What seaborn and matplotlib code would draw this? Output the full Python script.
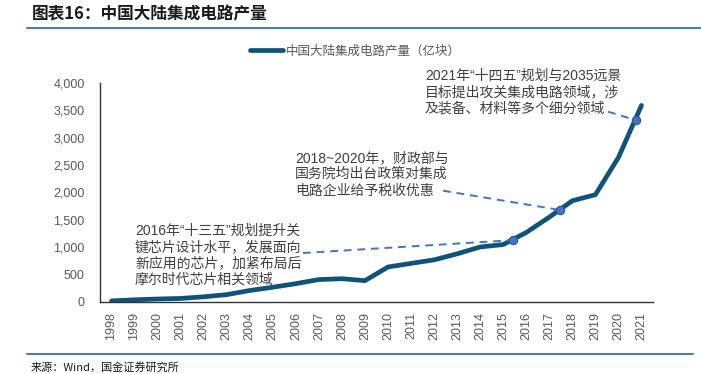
import matplotlib
matplotlib.use("Agg")
import matplotlib.pyplot as plt
from matplotlib.ticker import MultipleLocator, FixedLocator, StrMethodFormatter
import numpy as np
import pandas as pd
import seaborn as sns

# 中国大陆集成电路产量（亿块），读图估计
years = list(range(1998, 2022))
output = [20, 40, 55, 65, 95, 135, 210, 270, 335, 410, 425, 390,
          640, 705, 770, 880, 1005, 1050, 1270, 1550, 1850, 1960, 2640, 3590]

# 注释所指的点
anchor_x = [2015.43, 2017.47, 2020.76]
anchor_y = [1130, 1680, 3320]

notes = [
    "2016年“十三五”规划提升关\n键芯片设计水平，发展面向\n新应用的芯片，加紧布局后\n摩尔时代芯片相关领域",
    "2018~2020年，财政部与\n国务院均出台政策对集成\n电路企业给予税收优惠",
    "2021年“十四五”规划与2035远景\n目标提出攻关集成电路领域，涉\n及装备、材料等多个细分领域",
]

df = pd.DataFrame({"year": years, "output": output})

sns.set_style("white")
plt.rcParams['font.family'] = ['Liberation Sans', 'Noto Sans CJK SC', 'DejaVu Sans']

W, H = 701, 374
fig = plt.figure(figsize=(W / 100, H / 100), dpi=100)
ax = fig.add_axes([100 / W, 1 - 302 / H, 553 / W, (302 - 83) / H])

line_c = "#0f5478"
dash_c = "#4472c4"
grey = "#595959"

sns.lineplot(data=df, x="year", y="output", ax=ax, color=line_c, linewidth=3.4,
             label="中国大陆集成电路产量（亿块）", solid_capstyle="round", solid_joinstyle="round")

# annotation connectors + dots
txt_pos = [(135, 224), (295, 151), (425, 69)]     # pixel positions of text blocks
line_start = [(2006.31, 895), (2012.39, 2033), (2019.55, 3476)]
for (tx, ty), note, (sx, sy), mx, my in zip(txt_pos, notes, line_start, anchor_x, anchor_y):
    fig.text(tx / W, 1 - ty / H, note, fontsize=10, color="#404040", va="top", ha="left",
             linespacing=1.21)
    ax.plot([sx, mx], [sy, my], color=dash_c, lw=1.4, ls=(0, (4, 3)))
ax.plot(anchor_x, anchor_y, "o", color=dash_c, mec="#2f5597", mew=0.8, ms=6, zorder=5)

ax.set_xlim(1997.5, 2021.5)
ax.set_ylim(0, 4000)
ax.yaxis.set_major_locator(MultipleLocator(500))
ax.yaxis.set_major_formatter(StrMethodFormatter("{x:,.0f}"))
ax.xaxis.set_major_locator(FixedLocator(np.arange(1997.5, 2022, 1)))
ax.xaxis.set_major_formatter(plt.NullFormatter())
ax.xaxis.set_minor_locator(FixedLocator(years))
ax.set_xticklabels([str(y) for y in years], minor=True, rotation=90)
ax.tick_params(axis="x", which="major", direction="out", length=4, width=0.9, color="#333333")
ax.tick_params(axis="x", which="minor", length=0, pad=7, labelsize=9, labelcolor=grey)
ax.tick_params(axis="y", direction="in", length=4, width=0.9, color="#333333", pad=11,
               labelsize=9, labelcolor=grey)
ax.set_xlabel("")
ax.set_ylabel("")
for s in ["top", "right"]:
    ax.spines[s].set_visible(False)
for s in ["left", "bottom"]:
    ax.spines[s].set_color("#333333")
    ax.spines[s].set_linewidth(1.0)

ax.legend(loc="center left", bbox_to_anchor=(250 / W, 1 - 51 / H), bbox_transform=fig.transFigure,
          frameon=False, borderpad=0, borderaxespad=0, handlelength=2.6, handletextpad=0.3,
          prop={"family": ["Noto Sans CJK SC"], "size": 9}, labelcolor=grey)

# header / footer
fig.text(32 / W, 1 - 14 / H, "图表16：中国大陆集成电路产量", fontsize=12, fontweight="bold",
         color="#1a1a1a", va="center", ha="left", family=["Noto Sans CJK SC"])
fig.add_artist(plt.Line2D([27 / W, 1.0], [1 - 28 / H] * 2, color="#4a7fa5", lw=1.5))
fig.add_artist(plt.Line2D([27 / W, 693 / W], [1 - 354 / H] * 2, color="#4a7fa5", lw=1.5))
fig.text(31 / W, 1 - 367 / H, "来源：Wind，国金证券研究所", fontsize=8, color="#1a1a1a",
         va="center", ha="left", family=["Noto Sans CJK SC"])

fig.savefig("out.png", dpi=100)
